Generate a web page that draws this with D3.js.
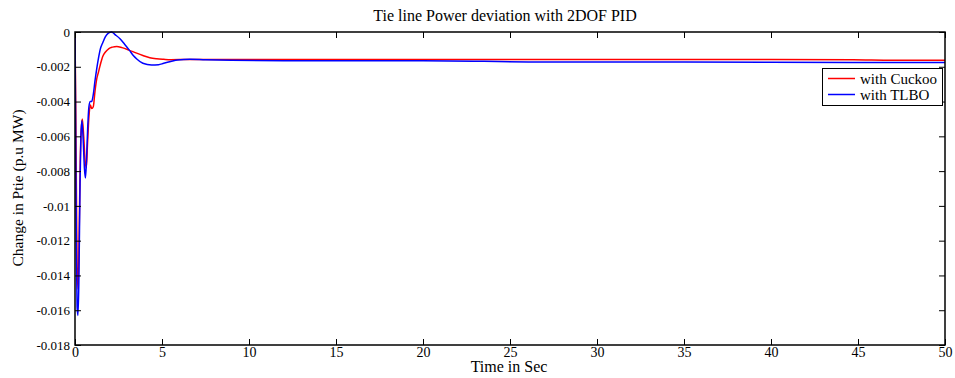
<!DOCTYPE html>
<html>
<head>
<meta charset="utf-8">
<script src="https://cdn.jsdelivr.net/npm/d3@7"></script>
<style>
  html, body { margin: 0; padding: 0; background: #fff; }
  svg { display: block; }
  text { font-family: "Liberation Serif", "Times New Roman", serif; fill: #000; }
</style>
</head>
<body>
<svg id="chart" width="955" height="378"></svg>
<script>
// ---- data ----
const cuckooTime = [0, 0.04, 0.08, 0.12, 0.18, 0.24, 0.3, 0.36, 0.42, 0.5, 0.58, 0.65, 0.72, 0.8, 0.88, 0.96, 1.05, 1.15, 1.25, 1.35, 1.45, 1.6, 1.75, 1.95, 2.15, 2.4, 2.7, 3.1, 3.5, 3.9, 4.3, 4.7, 5.1, 5.5, 6.5, 8, 12, 20, 30, 40, 44.7, 47, 50];
const cuckooValues = [0, -0.004, -0.009, -0.0135, -0.0148, -0.0115, -0.0075, -0.0056, -0.0050, -0.0060, -0.0074, -0.0078, -0.0064, -0.0049, -0.0042, -0.0044, -0.0043, -0.0034, -0.0027, -0.0023, -0.0019, -0.0014, -0.00115, -0.00095, -0.00087, -0.00083, -0.0009, -0.00104, -0.0012, -0.00135, -0.00148, -0.00154, -0.00157, -0.00159, -0.00158, -0.00158, -0.00158, -0.00158, -0.00158, -0.00158, -0.00159, -0.00162, -0.00162];

const tlboTime = [0, 0.04, 0.08, 0.12, 0.17, 0.22, 0.29, 0.34, 0.4, 0.47, 0.54, 0.6, 0.66, 0.73, 0.8, 0.88, 0.96, 1.05, 1.15, 1.25, 1.35, 1.45, 1.6, 1.75, 1.9, 2.1, 2.3, 2.6, 2.85, 3.12, 3.35, 3.55, 3.9, 4.4, 4.8, 5.1, 5.5, 5.9, 6.6, 7.5, 9, 12, 20, 27, 35, 44.7, 50];
const tlboValues = [0, -0.006, -0.0125, -0.0158, -0.0163, -0.0145, -0.0087, -0.0060, -0.0051, -0.0062, -0.0078, -0.0084, -0.0074, -0.0055, -0.0043, -0.0040, -0.0040, -0.0036, -0.0028, -0.0021, -0.0015, -0.00100, -0.00060, -0.00027, -0.00008, 0, -0.00015, -0.00040, -0.00070, -0.00104, -0.00135, -0.00155, -0.0018, -0.0019, -0.00188, -0.0018, -0.0017, -0.00161, -0.00157, -0.0016, -0.00163, -0.00165, -0.00165, -0.00172, -0.00172, -0.00176, -0.00176];

const xTicks = [0, 5, 10, 15, 20, 25, 30, 35, 40, 45, 50];
const yTicks = [0, -0.002, -0.004, -0.006, -0.008, -0.01, -0.012, -0.014, -0.016, -0.018];
const yTickLabels = ["0", "-0.002", "-0.004", "-0.006", "-0.008", "-0.01", "-0.012", "-0.014", "-0.016", "-0.018"];
const seriesNames = ["with Cuckoo", "with TLBO"];
const seriesColors = ["#ff0000", "#0000ff"];

// ---- layout ----
const svg = d3.select("#chart");
const L = 75, R = 945, T = 32, B = 345;
const x = d3.scaleLinear().domain([0, 50]).range([L, R]);
const y = d3.scaleLinear().domain([-0.018, 0]).range([B, T]);
const tickLen = 6;

// title
svg.append("text").attr("x", 505).attr("y", 21)
  .attr("text-anchor", "middle").style("font-size", "16px")
  .text("Tie line Power deviation with 2DOF PID");

// clip
svg.append("clipPath").attr("id", "clip").append("rect")
  .attr("x", L).attr("y", T - 2).attr("width", R - L).attr("height", B - T + 2);

const line = d3.line().x(d => x(d[0])).y(d => y(d[1])).curve(d3.curveMonotoneX);
const series = [
  d3.zip(cuckooTime, cuckooValues),
  d3.zip(tlboTime, tlboValues)
];
const g = svg.append("g").attr("clip-path", "url(#clip)");
series.forEach((s, i) => {
  g.append("path").datum(s).attr("d", line)
    .attr("fill", "none").attr("stroke", seriesColors[i]).attr("stroke-width", 1.5);
});

// axes (bottom, left with labels; top, right mirrored ticks inward)
const xAxisB = d3.axisBottom(x).tickValues(xTicks).tickSize(-tickLen).tickPadding(2).tickFormat(d3.format("d"));
const xAxisT = d3.axisTop(x).tickValues(xTicks).tickSize(-tickLen).tickFormat("");
const yAxisL = d3.axisLeft(y).tickValues(yTicks).tickSize(-tickLen).tickPadding(5)
  .tickFormat((d, i) => yTickLabels[i]);
const yAxisR = d3.axisRight(y).tickValues(yTicks).tickSize(-tickLen).tickFormat("");

function styleAxis(sel, size) {
  sel.select(".domain").remove();
  sel.selectAll(".tick line").attr("stroke", "#000").attr("stroke-width", 1);
  sel.selectAll(".tick text").style("font-size", size + "px")
    .style("font-family", "'Liberation Serif', 'Times New Roman', serif").attr("fill", "#000");
}
svg.append("g").attr("transform", `translate(0,${B})`).call(xAxisB).call(styleAxis, 14);
svg.append("g").attr("transform", `translate(0,${T})`).call(xAxisT).call(styleAxis, 14);
svg.append("g").attr("transform", `translate(${L},0)`).call(yAxisL).call(styleAxis, 13);
svg.append("g").attr("transform", `translate(${R},0)`).call(yAxisR).call(styleAxis, 13);

// frame
svg.append("rect").attr("x", L).attr("y", T).attr("width", R - L).attr("height", B - T)
  .attr("fill", "none").attr("stroke", "#000").attr("stroke-width", 1.5);

// axis labels
svg.append("text").attr("x", 509).attr("y", 372)
  .attr("text-anchor", "middle").style("font-size", "16px").text("Time in Sec");
svg.append("text").attr("transform", `translate(23,188) rotate(-90)`)
  .attr("text-anchor", "middle").style("font-size", "15.5px").text("Change in Ptie (p.u MW)");

// legend
const lg = svg.append("g");
lg.append("rect").attr("x", 822.5).attr("y", 68.5).attr("width", 120).attr("height", 37)
  .attr("fill", "#fff").attr("stroke", "#000").attr("stroke-width", 1);
seriesNames.forEach((name, i) => {
  const yy = 78.5 + i * 16;
  lg.append("line").attr("x1", 828).attr("x2", 855).attr("y1", yy).attr("y2", yy)
    .attr("stroke", seriesColors[i]).attr("stroke-width", 1.5);
  lg.append("text").attr("x", 860).attr("y", yy + 5).style("font-size", "15px").text(name);
});
</script>
</body>
</html>
